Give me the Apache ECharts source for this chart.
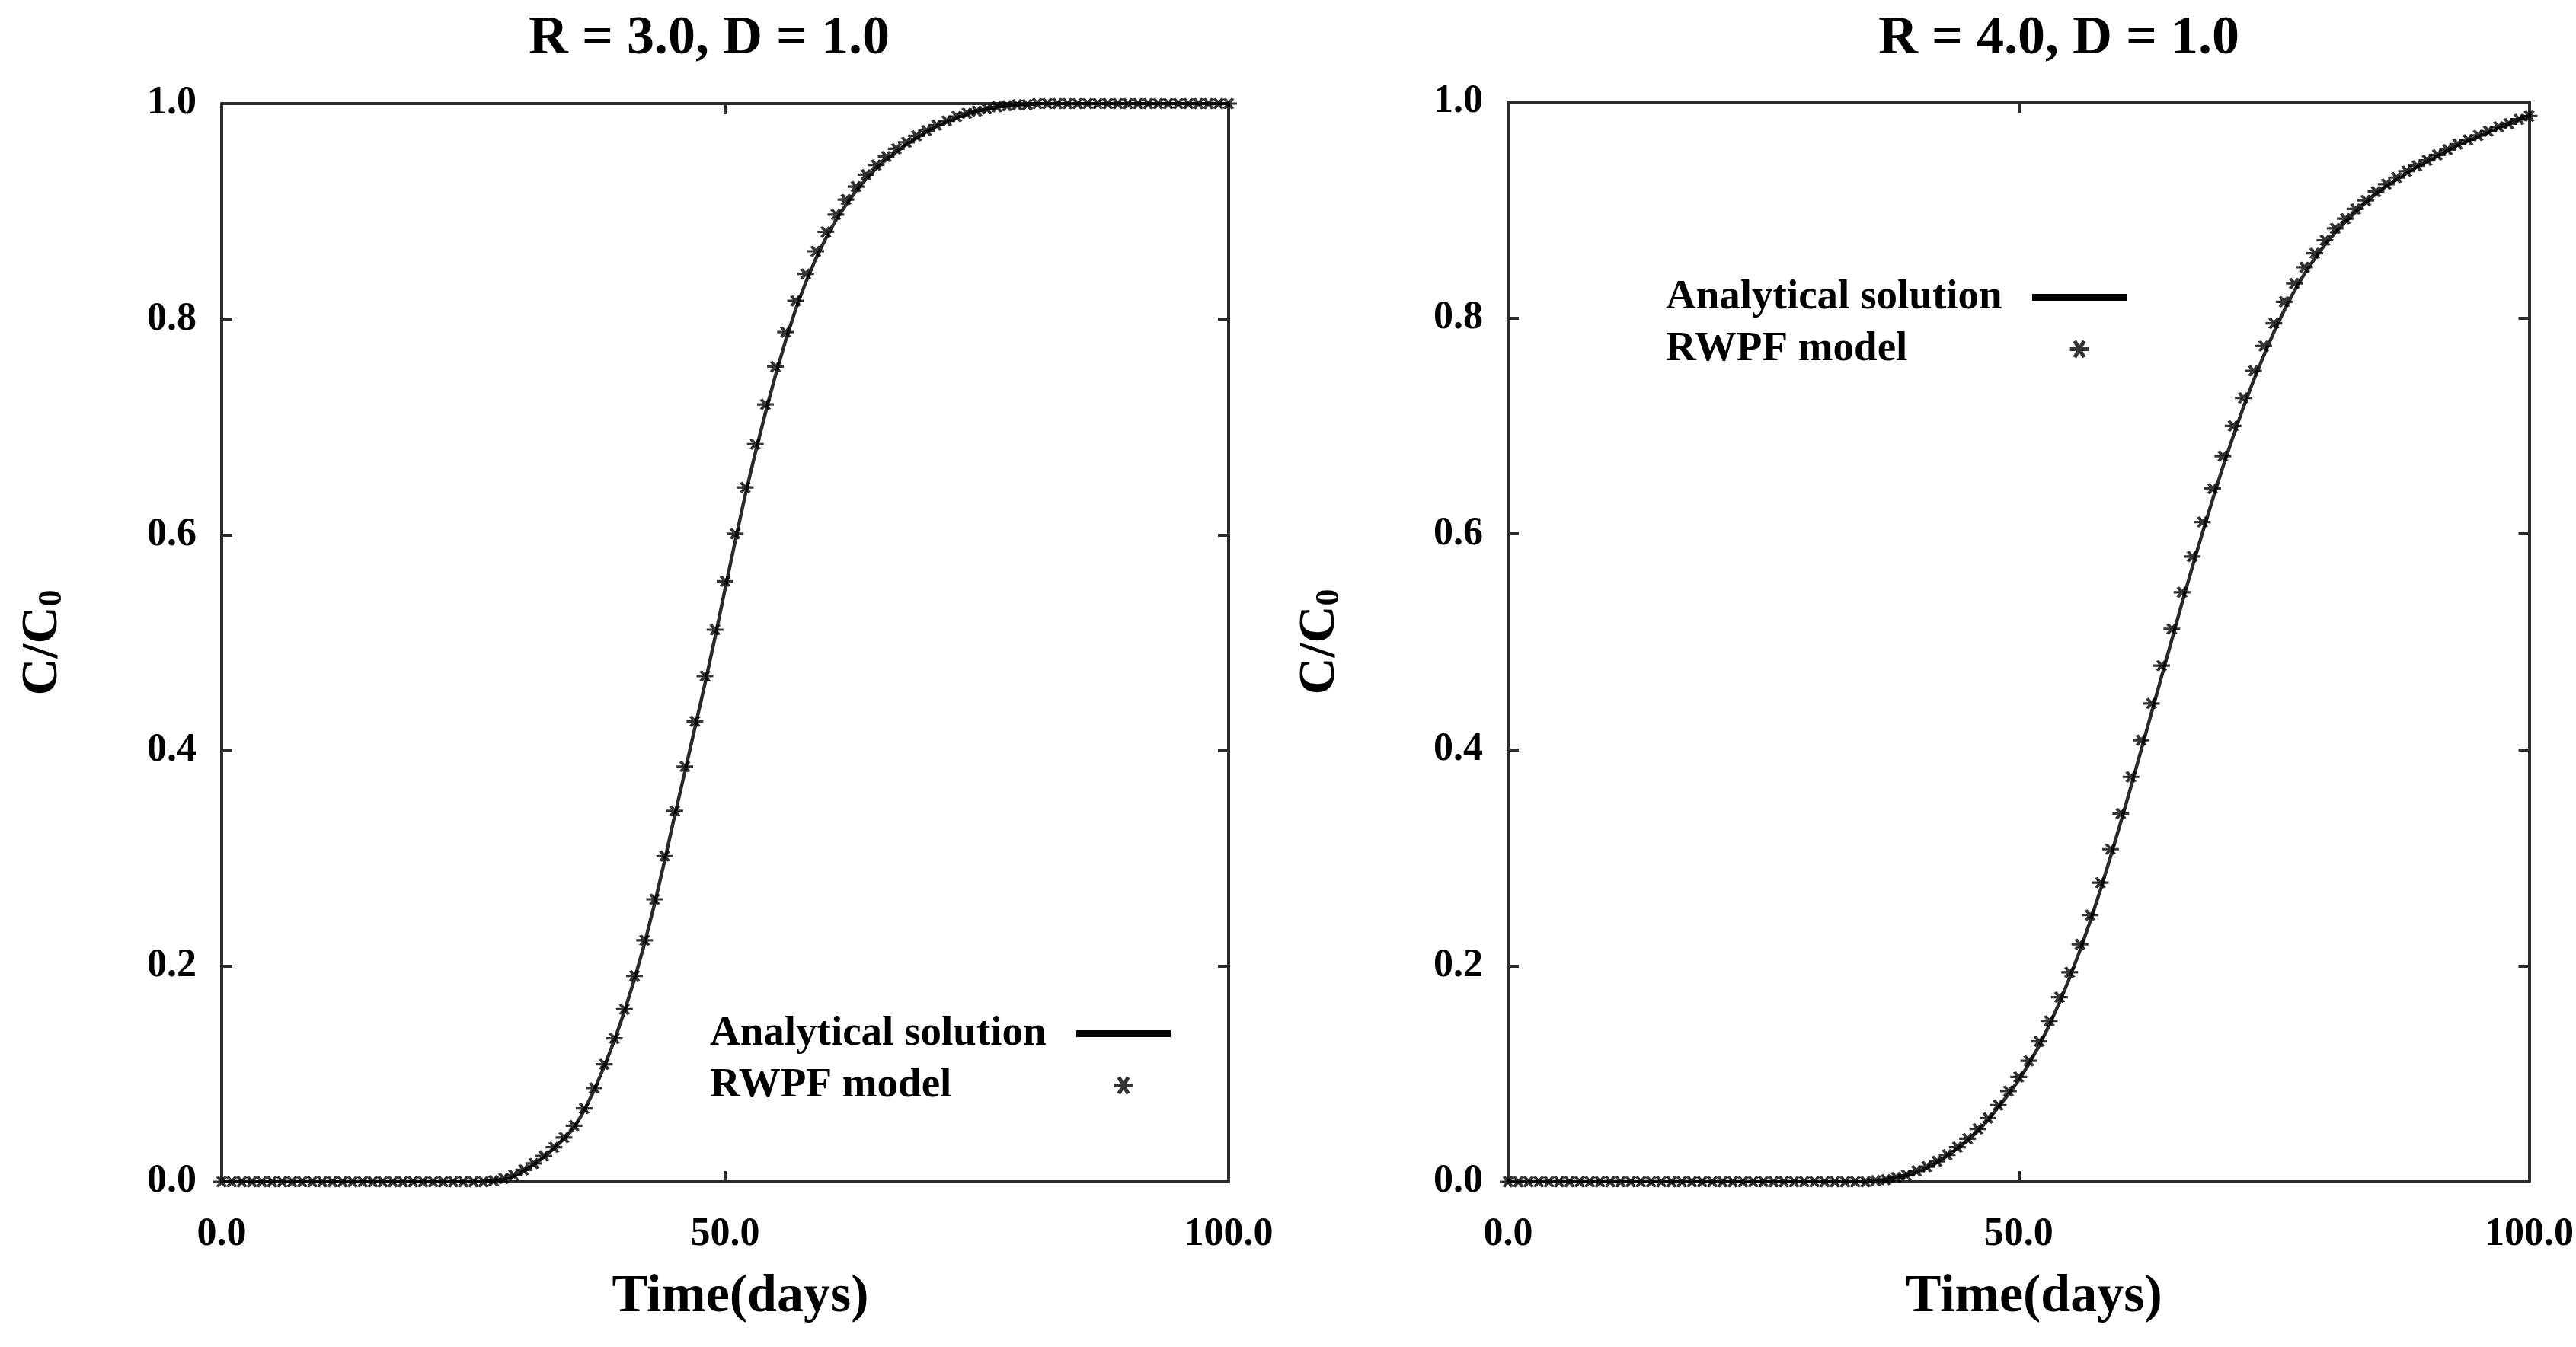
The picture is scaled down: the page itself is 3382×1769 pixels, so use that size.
<!DOCTYPE html>
<html>
<head>
<meta charset="utf-8">
<script src="https://cdn.jsdelivr.net/npm/echarts@6/dist/echarts.min.js"></script>
<style>
html,body{margin:0;padding:0;background:#fff;}
#chart{width:3382px;height:1769px;}
</style>
</head>
<body>
<div id="chart"></div>
<script>
// ---- data ----
const days = [0,1,2,3,4,5,6,7,8,9,10,11,12,13,14,15,16,17,18,19,20,21,22,23,24,25,26,27,28,29,30,31,32,33,34,35,36,37,38,39,40,41,42,43,44,45,46,47,48,49,50,51,52,53,54,55,56,57,58,59,60,61,62,63,64,65,66,67,68,69,70,71,72,73,74,75,76,77,78,79,80,81,82,83,84,85,86,87,88,89,90,91,92,93,94,95,96,97,98,99,100];

const titles = ['R = 3.0, D = 1.0', 'R = 4.0, D = 1.0'];
const seriesNames = ['Analytical solution', 'RWPF model'];

// R = 3.0
const analyticalR3 = [0,0,0,0,0,0,0,0,0,0,0,0,0,0,0,0,0,0,0,0,0,0,0,0,0,0,0,
  0.001,0.002,0.005,0.010,0.016,0.023,0.031,0.040,0.050,0.066,0.085,0.107,0.131,0.158,0.188,0.221,0.258,0.298,0.340,
  0.380,0.421,0.462,0.505,0.550,0.594,0.637,0.676,0.713,0.748,0.780,0.809,0.834,0.856,0.875,0.892,0.906,0.919,0.930,
  0.940,0.948,0.955,0.962,0.968,0.974,0.979,0.983,0.987,0.990,0.993,0.995,0.997,0.998,0.999,0.999,
  1,1,1,1,1,1,1,1,1,1,1,1,1,1,1,1,1,1,1,1];
const rwpfR3 = [0,0,0,0,0,0,0,0,0,0,0,0,0,0,0,0,0,0,0,0,0,0,0,0,0,0,0,
  0.001,0.003,0.006,0.011,0.017,0.024,0.032,0.041,0.052,0.068,0.087,0.109,0.133,0.160,0.191,0.224,0.262,0.302,0.344,
  0.385,0.427,0.469,0.512,0.557,0.601,0.644,0.684,0.721,0.756,0.788,0.817,0.842,0.863,0.881,0.897,0.911,0.923,0.934,
  0.943,0.951,0.958,0.964,0.970,0.975,0.980,0.984,0.988,0.991,0.993,0.995,0.997,0.998,0.999,0.999,
  1,1,1,1,1,1,1,1,1,1,1,1,1,1,1,1,1,1,1,1];

// R = 4.0
const analyticalR4 = [0,0,0,0,0,0,0,0,0,0,0,0,0,0,0,0,0,0,0,0,0,0,0,0,0,0,0,0,0,0,0,0,0,0,0,0,
  0.001,0.002,0.004,0.006,0.009,0.013,0.018,0.024,0.031,0.038,0.047,0.057,0.069,0.081,0.094,0.109,0.126,0.145,0.166,
  0.189,0.214,0.241,0.270,0.301,0.333,0.366,0.400,0.434,0.468,0.502,0.536,0.569,0.601,0.632,0.662,0.690,0.717,0.742,
  0.765,0.787,0.807,0.825,0.841,0.855,0.868,0.879,0.889,0.898,0.907,0.915,0.922,0.928,0.934,0.940,0.945,0.950,0.955,
  0.960,0.964,0.968,0.972,0.976,0.980,0.984,0.987];
const rwpfR4 = [0,0,0,0,0,0,0,0,0,0,0,0,0,0,0,0,0,0,0,0,0,0,0,0,0,0,0,0,0,0,0,0,0,0,0,0,
  0.001,0.002,0.004,0.006,0.010,0.014,0.019,0.025,0.032,0.040,0.049,0.059,0.071,0.084,0.097,0.112,0.130,0.149,0.171,
  0.194,0.220,0.247,0.277,0.308,0.341,0.375,0.409,0.443,0.478,0.512,0.546,0.579,0.611,0.642,0.672,0.700,0.726,0.751,
  0.774,0.795,0.815,0.832,0.847,0.860,0.872,0.883,0.892,0.901,0.909,0.917,0.924,0.930,0.936,0.941,0.946,0.951,0.956,
  0.961,0.965,0.969,0.973,0.977,0.980,0.984,0.987];

// ---- styling ----
const FONT = '"Liberation Serif", "Times New Roman", serif';
const AXIS_COLOR = '#2b2b2b';
const STAR = 'path://M0 9.5 L24 9.5 L24 14.5 L0 14.5 Z M3.835 2.858 L8.165 0.358 L20.165 21.142 L15.835 23.642 Z M8.165 23.642 L3.835 21.142 L15.835 0.358 L20.165 2.858 Z';
const BAR = 'path://M0 0 L124 0 L124 9 L0 9 Z';

const pairs = (xs, ys) => xs.map((x, i) => [x, ys[i]]);
const fmt = v => Number(v).toFixed(1);

const grids = [
  {left: 291, top: 136, width: 1322, height: 1416},
  {left: 1980, top: 134, width: 1343, height: 1418}
];

function xAxes(gi) {
  const base = {
    type: 'value', gridIndex: gi, min: 0, max: 100, interval: 50,
    splitLine: {show: false},
    axisLine: {show: true, onZero: false, lineStyle: {color: AXIS_COLOR, width: 4}},
    axisTick: {show: true, inside: true, length: 14, lineStyle: {color: AXIS_COLOR, width: 4}}
  };
  return [
    Object.assign({}, base, {
      position: 'bottom',
      name: 'Time(days)', nameLocation: 'middle', nameGap: 117,
      nameTextStyle: {fontFamily: FONT, fontWeight: 'bold', fontSize: 70, color: '#000', lineHeight: 70, padding: [0, 0, 0, 40]},
      axisLabel: {show: true, margin: 44, formatter: fmt, fontFamily: FONT, fontWeight: 'bold', fontSize: 52, color: '#000'}
    }),
    Object.assign({}, base, {position: 'top', axisLabel: {show: false}})
  ];
}

function yAxes(gi, gap) {
  const base = {
    type: 'value', gridIndex: gi, min: 0, max: 1, interval: 0.2,
    splitLine: {show: false},
    axisLine: {show: true, onZero: false, lineStyle: {color: AXIS_COLOR, width: 4}},
    axisTick: {show: true, inside: true, length: 14, lineStyle: {color: AXIS_COLOR, width: 4}}
  };
  return [
    Object.assign({}, base, {
      position: 'left',
      name: '{a|C/C}{b|0}', nameLocation: 'middle', nameGap: gap, nameRotate: 90,
      nameTextStyle: {
        rich: {
          a: {fontFamily: FONT, fontWeight: 'bold', fontSize: 68, color: '#000', lineHeight: 70},
          b: {fontFamily: FONT, fontWeight: 'bold', fontSize: 44, color: '#000', lineHeight: 30, verticalAlign: 'bottom'}
        }
      },
      axisLabel: {show: true, margin: 33, formatter: fmt, fontFamily: FONT, fontWeight: 'bold', fontSize: 52, color: '#000'}
    }),
    Object.assign({}, base, {position: 'right', axisLabel: {show: false}})
  ];
}

function legendFor(left, top) {
  return {
    orient: 'vertical', left: left, top: top, align: 'right',
    itemWidth: 124, itemHeight: 24, itemGap: 13, padding: 0,
    symbolKeepAspect: true,
    selectedMode: false,
    formatter: '{n|{name}}',
    textStyle: {
      rich: {n: {width: 476, align: 'left', fontFamily: FONT, fontWeight: 'bold', fontSize: 55, color: '#000', lineHeight: 54}}
    },
    data: [
      {name: seriesNames[0], icon: BAR, itemStyle: {color: '#000'}},
      {name: seriesNames[1], icon: STAR, itemStyle: {color: '#000'}}
    ]
  };
}

function lineSeries(xi, yi, values) {
  return {
    name: seriesNames[0], type: 'line', xAxisIndex: xi, yAxisIndex: yi,
    data: pairs(days, values), symbol: 'none', showSymbol: false,
    color: '#000', lineStyle: {color: '#2a2a2a', width: 4.5}, z: 2, silent: true
  };
}
function starSeries(xi, yi, values) {
  return {
    name: seriesNames[1], type: 'scatter', xAxisIndex: xi, yAxisIndex: yi,
    data: pairs(days, values), symbol: STAR, symbolSize: [22, 15],
    color: '#000', itemStyle: {color: '#000'}, z: 3, silent: true
  };
}

const chart = echarts.init(document.getElementById('chart'), null, {renderer: 'canvas'});
chart.setOption({
  backgroundColor: '#fff',
  animation: false,
  title: [
    {text: titles[0], left: 689, top: 10, textStyle: {fontFamily: FONT, fontWeight: 'bold', fontSize: 72, color: '#000'}},
    {text: titles[1], left: 2461, top: 10, textStyle: {fontFamily: FONT, fontWeight: 'bold', fontSize: 72, color: '#000'}}
  ],
  legend: [legendFor(932, 1330), legendFor(2187, 363)],
  grid: grids,
  xAxis: [].concat(xAxes(0), xAxes(1)),
  yAxis: [].concat(yAxes(0, 200), yAxes(1, 212)),
  series: [
    lineSeries(0, 0, analyticalR3),
    starSeries(0, 0, rwpfR3),
    lineSeries(2, 2, analyticalR4),
    starSeries(2, 2, rwpfR4)
  ]
});
</script>
</body>
</html>
